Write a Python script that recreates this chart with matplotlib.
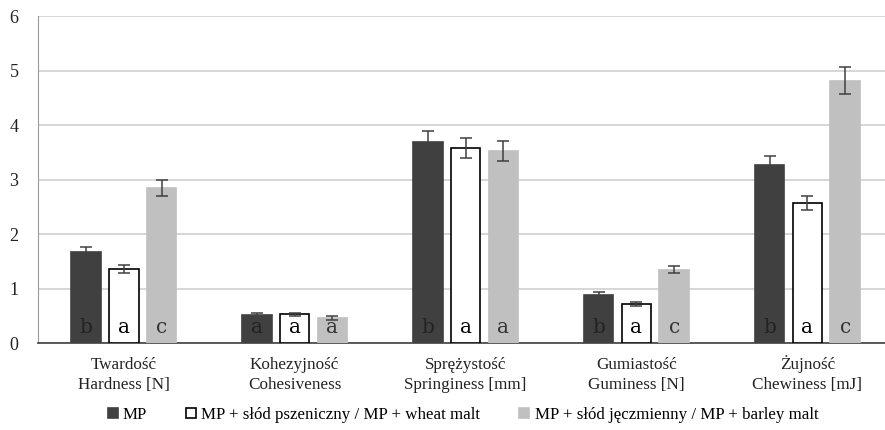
import numpy as np
import matplotlib
matplotlib.use('Agg')
import matplotlib.pyplot as plt

plt.rcParams['font.family'] = ['Liberation Serif', 'DejaVu Serif']

# Dane
kategorie = ['Twardość\nHardness [N]', 'Kohezyjność\nCohesiveness', 'Sprężystość\nSpringiness [mm]',
             'Gumiastość\nGuminess [N]', 'Żujność\nChewiness [mJ]']
serie = ['MP', 'MP + słód pszeniczny / MP + wheat malt', 'MP + słód jęczmienny / MP + barley malt']

mp = [1.67, 0.52, 3.70, 0.88, 3.27]
mp_err = [0.10, 0.03, 0.19, 0.05, 0.16]
wheat = [1.36, 0.53, 3.58, 0.72, 2.58]
wheat_err = [0.07, 0.03, 0.18, 0.04, 0.13]
barley = [2.85, 0.46, 3.53, 1.35, 4.82]
barley_err = [0.14, 0.03, 0.18, 0.07, 0.25]

lit_mp = ['b', 'a', 'b', 'b', 'b']
lit_wheat = ['a', 'a', 'a', 'a', 'a']
lit_barley = ['c', 'a', 'a', 'c', 'c']

# Wykres
fig = plt.figure(figsize=(8.85, 4.3), dpi=100)
ax = fig.add_axes([0.043, 0.202, 0.966, 0.76])

x = np.arange(len(kategorie))
w = 0.175
d = 0.222

dane = [(mp, mp_err, lit_mp, '#404040', '#404040', '#222222'),
        (wheat, wheat_err, lit_wheat, 'white', 'black', 'black'),
        (barley, barley_err, lit_barley, '#c0c0c0', '#c0c0c0', '#333333')]

for i, (vals, errs, lit, fc, ec, tc) in enumerate(dane):
    pos = x + (i - 1) * d
    ax.bar(pos, vals, width=w, color=fc, edgecolor=ec, linewidth=1.2, label=serie[i], zorder=3)
    ax.errorbar(pos, vals, yerr=errs, fmt='none', ecolor='#404040', elinewidth=1.1,
                capsize=4, capthick=1.1, zorder=4)
    for p, l in zip(pos, lit):
        ax.text(p, 0.28, l, ha='center', va='center', fontsize=14.5, color=tc,
                family='DejaVu Serif', zorder=5)

ax.set_xlim(-0.5, 4.5)
ax.set_ylim(0, 6)
ax.set_yticks(range(7))
ax.set_xticks(x)
ax.set_xticklabels(kategorie, fontsize=12.3, linespacing=1.35)
for lbl in ax.get_xticklabels():
    lbl.set_verticalalignment('baseline')
ax.tick_params(axis='both', length=0, colors='#222222')
ax.tick_params(axis='y', labelsize=13, pad=14)
ax.tick_params(axis='x', pad=33)
ax.yaxis.grid(True, color='#cfcfcf', linewidth=1.2, zorder=0)
ax.set_axisbelow(True)
for s in ['top', 'right']:
    ax.spines[s].set_visible(False)
ax.spines['left'].set_color('#9a9a9a')
ax.spines['bottom'].set_color('#404040')
ax.spines['bottom'].set_linewidth(1.2)

fig.legend(loc='center', bbox_to_anchor=(0.523, 0.035), ncol=3, frameon=False,
           fontsize=12.2, handlelength=0.6, handleheight=0.6, handletextpad=0.3,
           columnspacing=2.3)

fig.savefig('out.png', dpi=100)
